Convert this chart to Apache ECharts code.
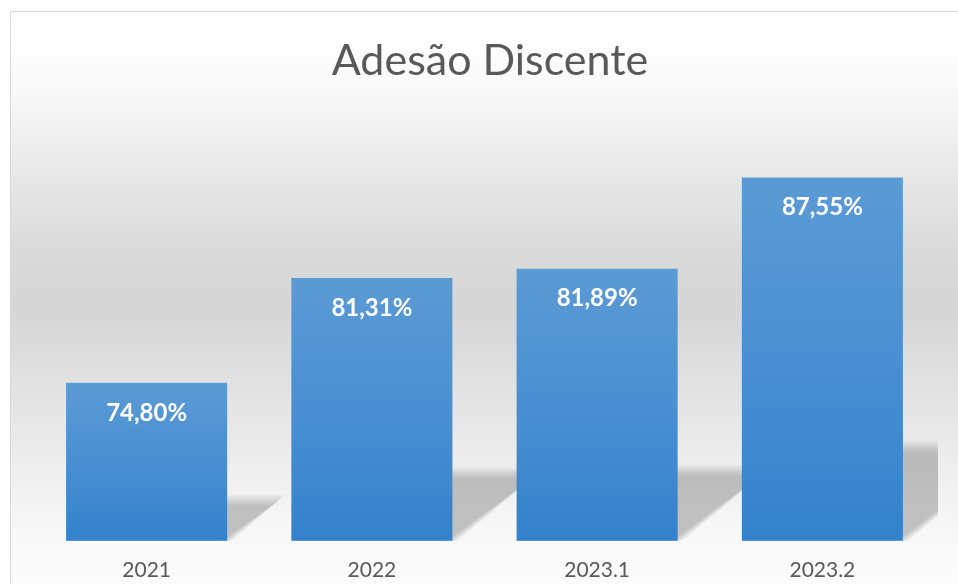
<!DOCTYPE html>
<html>
<head>
<meta charset="utf-8">
<script src="https://cdn.jsdelivr.net/npm/echarts@6/dist/echarts.min.js"></script>
<style>
html,body{margin:0;padding:0;background:#fff;}
#chart{width:958px;height:584px;}
</style>
</head>
<body>
<div id="chart"></div>
<script>
const categories = ['2021', '2022', '2023.1', '2023.2'];
const adesao = [74.80, 81.31, 81.89, 87.55];
const yMin = 65;
const yMax = 90;

const chart = echarts.init(document.getElementById('chart'), null, {renderer: 'canvas'});
const barRatio = 0.715;

function fmt(v) { return v.toFixed(2).replace('.', ',') + '%'; }

const pairs = categories.map(function (c, i) { return [i, adesao[i]]; });

const option = {
  animation: false,
  backgroundColor: '#ffffff',
  graphic: [{
    type: 'rect',
    z: -10,
    silent: true,
    shape: {x: 10.5, y: 11.5, width: 960, height: 580},
    style: {
      stroke: '#d9d9d9',
      lineWidth: 1,
      fill: new echarts.graphic.LinearGradient(0, 0, 0, 1, [
        {offset: 0, color: '#ffffff'},
        {offset: 0.067, color: '#fdfdfd'},
        {offset: 0.153, color: '#f7f7f7'},
        {offset: 0.297, color: '#e6e6e6'},
        {offset: 0.412, color: '#dadada'},
        {offset: 0.516, color: '#d6d6d6'},
        {offset: 0.67, color: '#e4e4e4'},
        {offset: 0.786, color: '#eeeeee'},
        {offset: 0.9, color: '#f8f8f8'},
        {offset: 1, color: '#fcfcfc'}
      ])
    }
  }],
  title: {
    text: 'Adesão Discente',
    left: 485,
    textAlign: 'center',
    top: 35,
    textStyle: {
      fontFamily: 'Lato',
      fontWeight: 'normal',
      fontSize: 43,
      color: '#595959'
    }
  },
  grid: {left: 34, right: 23, top: 138, bottom: 43.3},
  xAxis: {
    type: 'category',
    data: categories,
    axisLine: {show: false},
    axisTick: {show: false},
    axisLabel: {
      margin: 19,
      fontFamily: 'Lato',
      fontSize: 21,
      color: '#595959'
    }
  },
  yAxis: {
    type: 'value',
    min: yMin,
    max: yMax,
    show: false,
    splitLine: {show: false}
  },
  series: [
    {
      type: 'custom',
      coordinateSystem: 'cartesian2d',
      z: 1,
      silent: true,
      clip: false,
      data: pairs,
      encode: {x: 0, y: 1},
      renderItem: function (params, api) {
        const top = api.coord([api.value(0), api.value(1)]);
        const base = api.coord([api.value(0), yMin]);
        const band = api.size([1, 0])[0];
        const half = band * barRatio / 2;
        const h = base[1] - top[1];
        const dx = 0.33 * h, dy = 0.26 * h;
        const cx = base[0], y0 = base[1];
        const cs = params.coordSys;
        const layers = [];
        const n = 8;
        for (let k = 0; k < n; k++) {
          const d = -5 + k * 1.6;
          layers.push({
            type: 'polygon',
            shape: {
              points: [
                [cx - half, y0],
                [cx + half - d, y0],
                [cx + half + dx - d * 1.2, y0 - dy + d],
                [cx - half + dx, y0 - dy + d]
              ]
            },
            style: {fill: 'rgba(140,140,140,0.075)'}
          });
        }
        return {
          type: 'group',
          clipPath: {
            type: 'rect',
            shape: {x: cs.x, y: cs.y, width: cs.width + 3, height: cs.height}
          },
          children: layers
        };
      }
    },
    {
      type: 'bar',
      z: 3,
      data: adesao,
      barWidth: (barRatio * 100) + '%',
      itemStyle: {
        color: new echarts.graphic.LinearGradient(0, 0, 0, 1, [
          {offset: 0, color: '#5b9bd5'},
          {offset: 0.5, color: '#4a8fd2'},
          {offset: 1, color: '#3382cc'}
        ])
      },
      label: {
        show: true,
        position: 'insideTop',
        distance: 18,
        fontFamily: 'Lato',
        fontWeight: 'bold',
        fontSize: 24,
        color: '#ffffff',
        formatter: function (p) { return fmt(p.value); }
      }
    }
  ]
};
chart.setOption(option);
</script>
</body>
</html>
